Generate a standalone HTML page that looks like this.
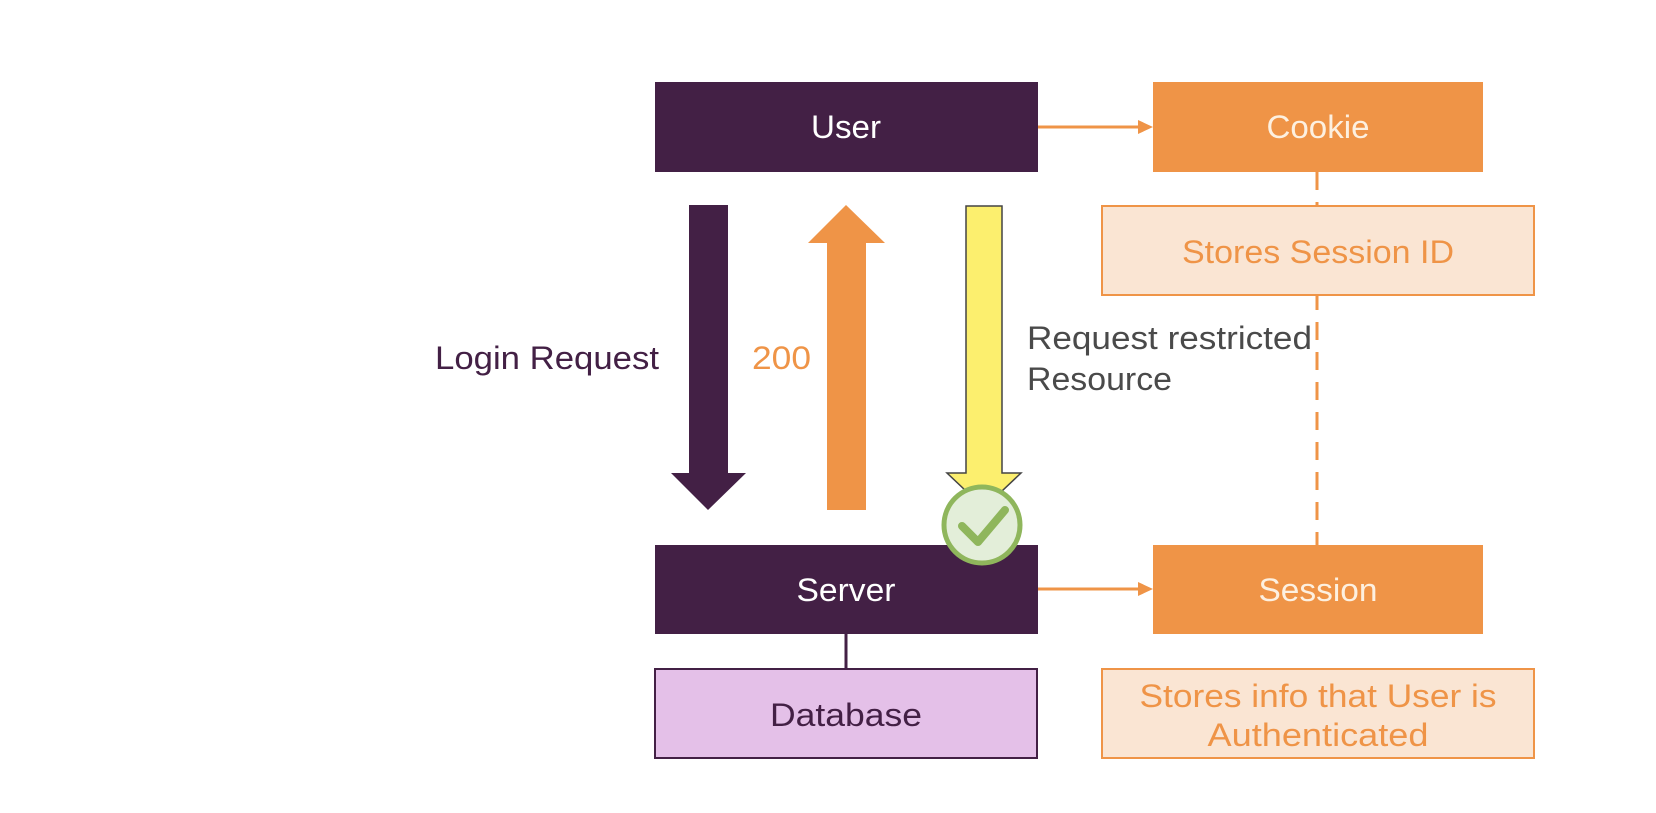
<!DOCTYPE html>
<html><head><meta charset="utf-8"><style>
html,body{margin:0;padding:0;background:#fff;}
body{width:1656px;height:808px;overflow:hidden;}
text{font-family:"Liberation Sans",sans-serif;}
</style></head><body>
<svg width="1656" height="808" viewBox="0 0 1656 808" xmlns="http://www.w3.org/2000/svg">
<line x1="1317" y1="172" x2="1317" y2="545" stroke="#ef9447" stroke-width="3" stroke-dasharray="18,12"/>
<rect x="655" y="82" width="383" height="90" fill="#432045"/>
<text x="846" y="138" font-size="32" fill="#fff" text-anchor="middle" textLength="70" lengthAdjust="spacingAndGlyphs">User</text>
<rect x="1153" y="82" width="330" height="90" fill="#ef9447"/>
<text x="1318" y="138" font-size="32" fill="#fdf0e0" text-anchor="middle" textLength="103" lengthAdjust="spacingAndGlyphs">Cookie</text>
<line x1="1038" y1="127" x2="1140" y2="127" stroke="#ef9447" stroke-width="3"/>
<polygon points="1153,127 1138,120 1138,134" fill="#ef9447"/>
<rect x="1102" y="206" width="432" height="89" fill="#fae5d3" stroke="#ef9447" stroke-width="2"/>
<text x="1318" y="263" font-size="32" fill="#ef9447" text-anchor="middle" textLength="272" lengthAdjust="spacingAndGlyphs">Stores Session ID</text>
<polygon points="689,205 728,205 728,473 746,473 708,510 671,473 689,473" fill="#432045"/>
<polygon points="846,205 885,243 866,243 866,510 827,510 827,243 808,243" fill="#ef9447"/>
<polygon points="966,206 1002,206 1002,473 1021,473 984,508 947,473 966,473" fill="#fcef6e" stroke="#444" stroke-width="1.5"/>
<text x="659" y="369" font-size="32" fill="#432045" text-anchor="end" textLength="224" lengthAdjust="spacingAndGlyphs">Login Request</text>
<text x="752" y="369" font-size="32" fill="#ef9447" textLength="59" lengthAdjust="spacingAndGlyphs">200</text>
<text x="1027" y="349" font-size="32" fill="#4a4a4a" textLength="285" lengthAdjust="spacingAndGlyphs">Request restricted</text>
<text x="1027" y="390" font-size="32" fill="#4a4a4a" textLength="145" lengthAdjust="spacingAndGlyphs">Resource</text>
<rect x="655" y="545" width="383" height="89" fill="#432045"/>
<text x="846" y="601" font-size="32" fill="#fff" text-anchor="middle" textLength="99" lengthAdjust="spacingAndGlyphs">Server</text>
<circle cx="982" cy="525" r="38" fill="#e3eed9" stroke="#8fb65c" stroke-width="5"/>
<polyline points="962,526 978,542 1005,510" fill="none" stroke="#8fb65c" stroke-width="8" stroke-linecap="round" stroke-linejoin="round"/>
<rect x="1153" y="545" width="330" height="89" fill="#ef9447"/>
<text x="1318" y="601" font-size="32" fill="#fdf0e0" text-anchor="middle" textLength="119" lengthAdjust="spacingAndGlyphs">Session</text>
<line x1="1038" y1="589" x2="1140" y2="589" stroke="#ef9447" stroke-width="3"/>
<polygon points="1153,589 1138,582 1138,596" fill="#ef9447"/>
<line x1="846" y1="634" x2="846" y2="669" stroke="#432045" stroke-width="3"/>
<rect x="655" y="669" width="382" height="89" fill="#e4c0e8" stroke="#432045" stroke-width="2"/>
<text x="846" y="726" font-size="32" fill="#432045" text-anchor="middle" textLength="152" lengthAdjust="spacingAndGlyphs">Database</text>
<rect x="1102" y="669" width="432" height="89" fill="#fae5d3" stroke="#ef9447" stroke-width="2"/>
<text x="1318" y="707" font-size="32" fill="#ef9447" text-anchor="middle" textLength="357" lengthAdjust="spacingAndGlyphs">Stores info that User is</text>
<text x="1318" y="746" font-size="32" fill="#ef9447" text-anchor="middle" textLength="221" lengthAdjust="spacingAndGlyphs">Authenticated</text>
</svg>
</body></html>
